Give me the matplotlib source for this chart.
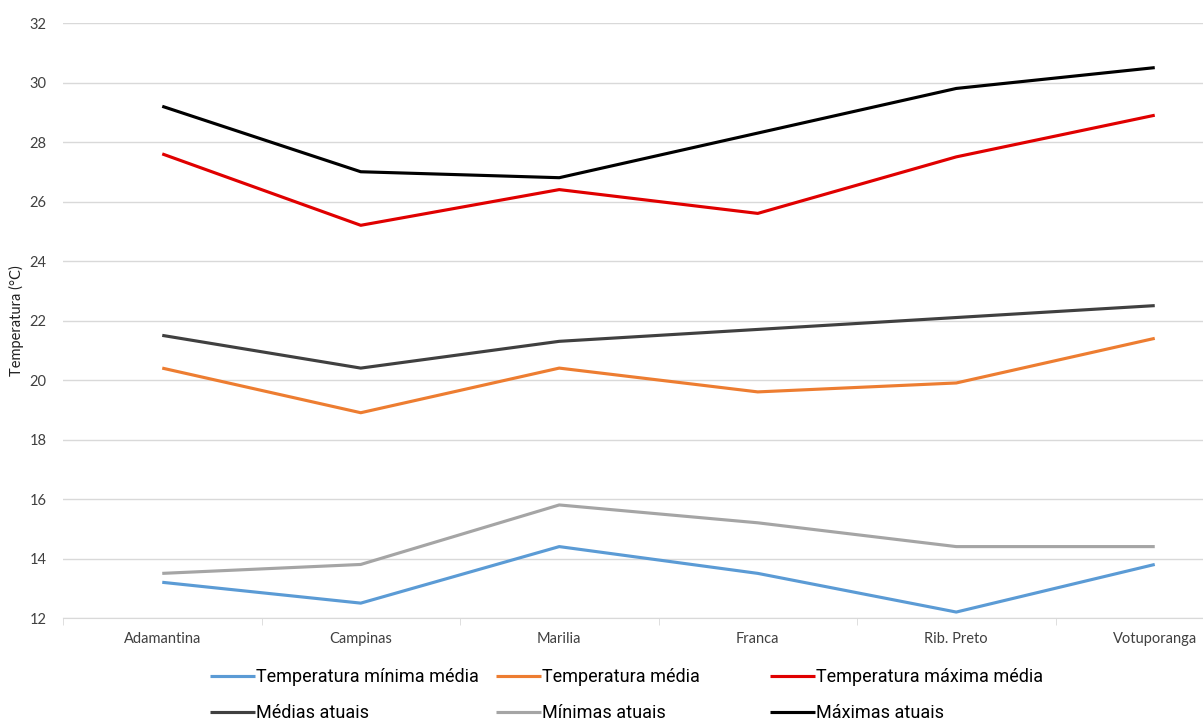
import matplotlib
matplotlib.use('Agg')
import matplotlib.pyplot as plt

# Temperaturas por cidade (°C)
cidades = ['Adamantina', 'Campinas', 'Marilia', 'Franca', 'Rib. Preto', 'Votuporanga']
temp_min_media = [13.2, 12.5, 14.4, 13.5, 12.2, 13.8]
temp_media = [20.4, 18.9, 20.4, 19.6, 19.9, 21.4]
temp_max_media = [27.6, 25.2, 26.4, 25.6, 27.5, 28.9]
medias_atuais = [21.5, 20.4, 21.3, 21.7, 22.1, 22.5]
minimas_atuais = [13.5, 13.8, 15.8, 15.2, 14.4, 14.4]
maximas_atuais = [29.2, 27.0, 26.8, 28.3, 29.8, 30.5]

series = [
    ('Temperatura mínima média', temp_min_media, '#5B9BD5'),
    ('Temperatura média', temp_media, '#ED7D31'),
    ('Temperatura máxima média', temp_max_media, '#E00000'),
    ('Médias atuais', medias_atuais, '#404040'),
    ('Mínimas atuais', minimas_atuais, '#A5A5A5'),
    ('Máximas atuais', maximas_atuais, '#000000'),
]

plt.rcParams['font.family'] = ['Lato', 'DejaVu Sans']

fig = plt.figure(figsize=(12.03, 7.2), dpi=100)
W, H = 1203, 720
# the plot area runs past the right edge of the figure
ax = fig.add_axes([63 / W, 102 / H, 1191 / W, 595 / H])

x = list(range(len(cidades)))
handles = []
for nome, vals, cor in series:
    h, = ax.plot(x, vals, color=cor, lw=2.25, solid_capstyle='butt', label=nome)
    handles.append(h)

ax.set_xlim(-0.5, len(cidades) - 0.5)
ax.set_ylim(12, 32)
ax.set_yticks(range(12, 33, 2))
ax.set_xticks(x)
ax.set_xticklabels(cidades)
ax.set_xticks([i + 0.5 for i in range(-1, len(cidades))], minor=True)
ax.tick_params(axis='x', which='major', length=0, pad=10, labelsize=10.5, colors='#404040')
ax.tick_params(axis='x', which='minor', length=5, color='#D9D9D9')
ax.tick_params(axis='y', length=0, pad=12, labelsize=10.5, colors='#404040')
ax.grid(axis='y', color='#D9D9D9', lw=1)
ax.set_axisbelow(True)
for s in ['top', 'right', 'left']:
    ax.spines[s].set_visible(False)
ax.spines['bottom'].set_color('#D9D9D9')
ax.set_ylabel('Temperatura (°C)', fontsize=10.5, color='#202020', labelpad=4)

# legenda em tres colunas de largura igual
col_x = [194, 480, 754]
for c in range(3):
    hs = [handles[c], handles[c + 3]]
    fig.legend(hs, [h.get_label() for h in hs], loc='upper left',
               bbox_to_anchor=(col_x[c] / W, 1 - 652 / H),
               frameon=False, handlelength=2.5,
               handletextpad=0.05, labelspacing=1.0,
               prop={'family': ['Roboto', 'DejaVu Sans'], 'size': 13})

fig.savefig('out.png', dpi=100)
